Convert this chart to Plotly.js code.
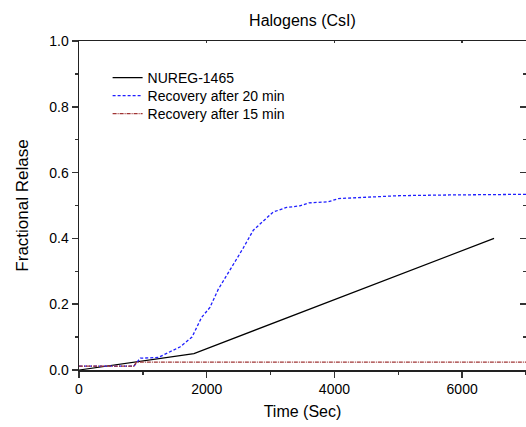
<!DOCTYPE html>
<html>
<head>
<meta charset="utf-8">
<script src="https://cdn.plot.ly/plotly-3.0.1.min.js"></script>
<style>html,body{margin:0;padding:0;background:#fff;}#chart{width:526px;height:427px;}</style>
</head>
<body>
<div id="chart"></div>
<script>
// NUREG-1465 reference release
const nuregT = [0, 1800, 6500];
const nuregF = [0.0, 0.05, 0.40];

// Recovery after 20 min
const rec20T = [0, 860, 960, 1240, 1580, 1770, 1920, 2050, 2180, 2420, 2570, 2730, 2890, 3040, 3250, 3460, 3600, 3800, 3900, 4060, 4500, 5030, 5800, 7000];
const rec20F = [0.012, 0.012, 0.036, 0.038, 0.07, 0.10, 0.16, 0.19, 0.245, 0.32, 0.37, 0.425, 0.455, 0.48, 0.494, 0.499, 0.508, 0.509, 0.511, 0.521, 0.526, 0.530, 0.532, 0.534];

// Recovery after 15 min
const rec15T = [0, 860, 900, 7000];
const rec15F = [0.012, 0.012, 0.024, 0.024];

const seriesNames = ["NUREG-1465", "Recovery after 20 min", "Recovery after 15 min"];
const xTickVals = [0, 2000, 4000, 6000];
const xTickText = ["0", "2000", "4000", "6000"];
const yTickVals = [0.0, 0.2, 0.4, 0.6, 0.8, 1.0];
const yTickText = ["0.0", "0.2", "0.4", "0.6", "0.8", "1.0"];

const font = "Liberation Sans, Arial, sans-serif";

const traces = [
  {x: nuregT, y: nuregF, name: seriesNames[0], mode: "lines", legend: "legend",
   line: {color: "#000000", width: 1.2}},
  {x: rec20T, y: rec20F, name: seriesNames[1], mode: "lines", legend: "legend2",
   line: {color: "#1f1fff", width: 1.3, dash: "3px,2px"}},
  {x: rec15T, y: rec15F, name: seriesNames[2], mode: "lines", legend: "legend3",
   line: {color: "#a03434", width: 1.3, dash: "4px,1px,1px,1px"}},
  // invisible trace carrying mirrored axes (right / top)
  {x: [0], y: [0], xaxis: "x2", yaxis: "y2", mode: "markers", marker: {opacity: 0}, showlegend: false, hoverinfo: "skip"}
];

const legendBase = {x: 0.064, xanchor: "left", yanchor: "middle", bgcolor: "rgba(0,0,0,0)",
                    font: {family: font, size: 14, color: "#000"}};

const layout = {
  width: 526, height: 427,
  margin: {l: 79, r: 0, t: 41, b: 57},
  paper_bgcolor: "#ffffff", plot_bgcolor: "#ffffff",
  font: {family: font, size: 14, color: "#000"},
  title: {text: "Halogens (CsI)", font: {family: font, size: 16, color: "#000"}, x: 0.575, xanchor: "center", y: 0.953, yanchor: "middle"},
  showlegend: true,
  legend: Object.assign({}, legendBase, {y: 0.8875}),
  legend2: Object.assign({}, legendBase, {y: 0.8328}),
  legend3: Object.assign({}, legendBase, {y: 0.778}),
  xaxis: {
    range: [0, 7000], tickvals: xTickVals, ticktext: xTickText,
    showgrid: false, zeroline: false,
    showline: true, linecolor: "#222", linewidth: 1.5, mirror: false,
    ticks: "outside", ticklen: 6, tickwidth: 1.5, tickcolor: "#333",
    minor: {dtick: 1000, tick0: 0, ticks: "outside", ticklen: 3, tickwidth: 1.5, tickcolor: "#333", showgrid: false},
    tickfont: {family: font, size: 14, color: "#000"},
    title: {text: "Time (Sec)", font: {family: font, size: 16, color: "#000"}, standoff: 9}
  },
  yaxis: {
    range: [0, 1.0], tickvals: yTickVals, ticktext: yTickText,
    showgrid: false, zeroline: false,
    showline: true, linecolor: "#222", linewidth: 1.5,
    ticks: "outside", ticklen: 6, tickwidth: 1.5, tickcolor: "#333",
    minor: {dtick: 0.1, tick0: 0, ticks: "outside", ticklen: 3, tickwidth: 1.5, tickcolor: "#333", showgrid: false},
    tickfont: {family: font, size: 14, color: "#000"},
    title: {text: "Fractional Relase", font: {family: font, size: 17, color: "#000"}, standoff: 16}
  },
  xaxis2: {
    overlaying: "x", side: "top", range: [0, 7000], tickvals: xTickVals,
    showticklabels: false, showgrid: false, zeroline: false,
    showline: true, linecolor: "#222", linewidth: 1.5,
    ticks: "inside", ticklen: 2, tickwidth: 1.5, tickcolor: "#333"
  },
  yaxis2: {
    overlaying: "y", side: "right", range: [0, 1.0], tickvals: yTickVals,
    showticklabels: false, showgrid: false, zeroline: false,
    showline: true, linecolor: "#222", linewidth: 1.5,
    ticks: "inside", ticklen: 6, tickwidth: 1.5, tickcolor: "#333",
    minor: {dtick: 0.1, tick0: 0, ticks: "inside", ticklen: 3, tickwidth: 1.5, tickcolor: "#333", showgrid: false}
  }
};

Plotly.newPlot("chart", traces, layout, {displayModeBar: false, staticPlot: true});
</script>
</body>
</html>
